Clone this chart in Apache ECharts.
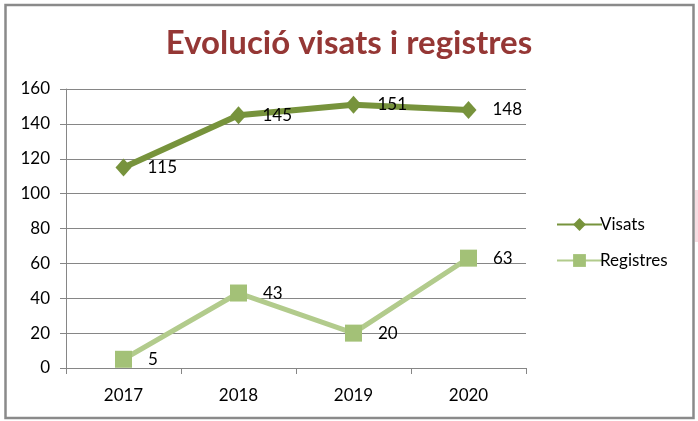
<!DOCTYPE html>
<html>
<head>
<meta charset="utf-8">
<script src="https://cdn.jsdelivr.net/npm/echarts@6/dist/echarts.min.js"></script>
<style>
html,body{margin:0;padding:0;background:#fff;}
#chart{width:698px;height:421px;}
</style>
</head>
<body>
<div id="chart"></div>
<script>
const categories = ['2017', '2018', '2019', '2020'];
const visats = [115, 145, 151, 148];
const registres = [5, 43, 20, 63];
const yTicks = [0, 20, 40, 60, 80, 100, 120, 140, 160];

const FONT = 'Lato, "Open Sans", sans-serif';
const chart = echarts.init(document.getElementById('chart'));
chart.setOption({
  animation: false,
  backgroundColor: '#ffffff',
  title: {
    text: 'Evolució visats i registres',
    left: 'center',
    top: 22,
    textStyle: { color: '#953735', fontSize: 33, fontWeight: 'bold', fontFamily: FONT }
  },
  graphic: [
    { type: 'rect', shape: { x: 5.5, y: 5, width: 688, height: 413 },
      style: { fill: 'none', stroke: '#8a8a8a', lineWidth: 2.5 }, silent: true },
    { type: 'rect', shape: { x: 695, y: 190, width: 3, height: 52 },
      style: { fill: '#f6dde2' }, silent: true }
  ],
  legend: {
    orient: 'vertical',
    left: 551,
    top: 211,
    itemWidth: 45,
    itemHeight: 16,
    itemGap: 19,
    textStyle: { fontSize: 17, color: '#000', fontFamily: FONT, padding: [0, 0, 0, -7] },
    data: ['Visats', 'Registres']
  },
  grid: { left: 66, right: 172, top: 89, bottom: 53 },
  xAxis: {
    type: 'category',
    data: categories,
    boundaryGap: true,
    axisLine: { lineStyle: { color: '#868686', width: 1 } },
    axisTick: { show: true, inside: false, length: 6, lineStyle: { color: '#868686' } },
    axisLabel: { fontSize: 17, color: '#000', fontFamily: FONT, margin: 19 }
  },
  yAxis: {
    type: 'value',
    min: yTicks[0],
    max: yTicks[yTicks.length - 1],
    interval: 20,
    axisLine: { show: true, lineStyle: { color: '#868686', width: 1 } },
    axisTick: { show: true, length: 6, lineStyle: { color: '#868686' } },
    splitLine: { lineStyle: { color: '#868686', width: 1 } },
    axisLabel: { fontSize: 17, color: '#000', fontFamily: FONT, margin: 16 }
  },
  series: [
    {
      name: 'Visats',
      type: 'line',
      data: visats,
      symbol: 'diamond',
      symbolSize: [16, 18],
      lineStyle: { color: '#77933C', width: 6 },
      itemStyle: { color: '#77933C' },
      label: { show: true, position: 'right', distance: 16, fontSize: 17, color: '#000', fontFamily: FONT }
    },
    {
      name: 'Registres',
      type: 'line',
      data: registres,
      symbol: 'rect',
      symbolSize: 17,
      lineStyle: { color: '#B2CB8C', width: 5 },
      itemStyle: { color: '#A3C177' },
      label: { show: true, position: 'right', distance: 16, fontSize: 17, color: '#000', fontFamily: FONT }
    }
  ]
});
</script>
</body>
</html>
